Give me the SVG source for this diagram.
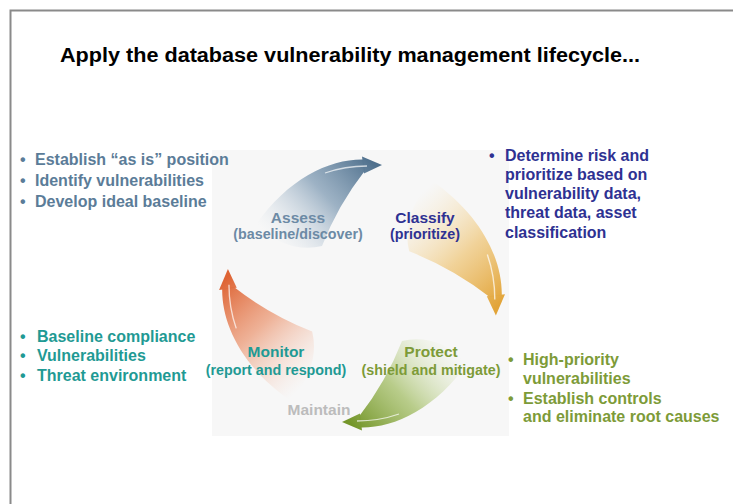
<svg xmlns="http://www.w3.org/2000/svg" width="733" height="504" viewBox="0 0 733 504">
<style>
text{font-family:"Liberation Sans",Arial,sans-serif;font-weight:bold}
.title{font-size:20px;fill:#000}
.lbl{font-size:15.5px;text-anchor:middle}
.sub{font-size:14.3px;text-anchor:middle}
.li{font-size:16px}
.hl{fill:none;stroke:#fff;stroke-width:1.3;stroke-opacity:.7}
</style>
<defs>
<linearGradient id="gA" gradientUnits="userSpaceOnUse" x1="372" y1="162" x2="280" y2="248">
<stop offset="0" stop-color="#4f708d"/><stop offset=".45" stop-color="#87a1b8" stop-opacity=".8"/><stop offset="1" stop-color="#d3dde7" stop-opacity="0"/></linearGradient>
<linearGradient id="gC" gradientUnits="userSpaceOnUse" x1="372" y1="162" x2="280" y2="248">
<stop offset="0" stop-color="#e2a438"/><stop offset=".45" stop-color="#efc981" stop-opacity=".8"/><stop offset="1" stop-color="#f7e4bb" stop-opacity="0"/></linearGradient>
<linearGradient id="gP" gradientUnits="userSpaceOnUse" x1="372" y1="162" x2="280" y2="248">
<stop offset="0" stop-color="#74962a"/><stop offset=".45" stop-color="#a8c16e" stop-opacity=".8"/><stop offset="1" stop-color="#dbe7c0" stop-opacity="0"/></linearGradient>
<linearGradient id="gM" gradientUnits="userSpaceOnUse" x1="372" y1="162" x2="280" y2="248">
<stop offset="0" stop-color="#de6434"/><stop offset=".45" stop-color="#eca07f" stop-opacity=".8"/><stop offset="1" stop-color="#f6d3c3" stop-opacity="0"/></linearGradient>
<g id="sw">
<path d="M363,159.5 C330,159 288,178 255,226 Q290,254 322,246 Q338,205 365,170.5 Z"/>
<polygon points="362,156.5 382,165 364,173.5"/>
</g>
</defs>
<rect width="733" height="504" fill="#fff"/>
<path d="M10.5,504 V10.5 H733" fill="none" stroke="#8a8a8a" stroke-width="2"/>
<rect x="212" y="150" width="297" height="286" fill="#f7f7f7"/>
<text class="title" x="60" y="62" textLength="580" lengthAdjust="spacingAndGlyphs">Apply the database vulnerability management lifecycle...</text>
<g id="connectors">
<g fill="url(#gA)"><use href="#sw"/><path class="hl" d="M325,173 Q345,166 367,166"/></g>
<g fill="url(#gC)" transform="translate(360,292) scale(1.07) rotate(90) translate(-360,-292)"><use href="#sw"/><path class="hl" d="M325,173 Q345,166 367,166"/></g>
<g fill="url(#gP)" transform="translate(4,3) rotate(180 360 292)"><use href="#sw"/><path class="hl" d="M325,173 Q345,166 367,166"/></g>
<g fill="url(#gM)" transform="translate(360,292) scale(1.04) rotate(-90) translate(-360,-292)"><use href="#sw"/><path class="hl" d="M325,173 Q345,166 367,166"/></g>
</g>
<g id="assess" fill="#5b7c98">
<text class="lbl" x="298" y="223" fill="#6c8aa5">Assess</text>
<text class="sub" x="298" y="239" fill="#6c8aa5">(baseline/discover)</text>
<text class="li" x="20" y="165">•</text><text class="li" x="35" y="165">Establish “as is” position</text>
<text class="li" x="20" y="186">•</text><text class="li" x="35" y="186">Identify vulnerabilities</text>
<text class="li" x="20" y="207">•</text><text class="li" x="35" y="207">Develop ideal baseline</text>
</g>
<g id="classify" fill="#2e3192">
<text class="lbl" x="425" y="223">Classify</text>
<text class="sub" x="425" y="239">(prioritize)</text>
<text class="li" x="489" y="161">•</text>
<text class="li" x="505" y="161">Determine risk and</text>
<text class="li" x="505" y="180">prioritize based on</text>
<text class="li" x="505" y="199">vulnerability data,</text>
<text class="li" x="505" y="218">threat data, asset</text>
<text class="li" x="505" y="238">classification</text>
</g>
<g id="monitor" fill="#1f9a94">
<text class="lbl" x="276" y="357">Monitor</text>
<text class="sub" x="276" y="375">(report and respond)</text>
<text class="li" x="20" y="342">•</text><text class="li" x="37" y="342">Baseline compliance</text>
<text class="li" x="20" y="361">•</text><text class="li" x="37" y="361">Vulnerabilities</text>
<text class="li" x="20" y="381">•</text><text class="li" x="37" y="381">Threat environment</text>
</g>
<g id="protect" fill="#7d9b38">
<text class="lbl" x="431" y="357">Protect</text>
<text class="sub" x="431" y="375">(shield and mitigate)</text>
<text class="li" x="508" y="365">•</text><text class="li" x="523" y="365">High-priority</text>
<text class="li" x="523" y="384">vulnerabilities</text>
<text class="li" x="508" y="404">•</text><text class="li" x="523" y="404">Establish controls</text>
<text class="li" x="523" y="422">and eliminate root causes</text>
</g>
<g id="maintain">
<text class="lbl" x="319" y="415" fill="#bcbcbc">Maintain</text>
</g>
</svg>
